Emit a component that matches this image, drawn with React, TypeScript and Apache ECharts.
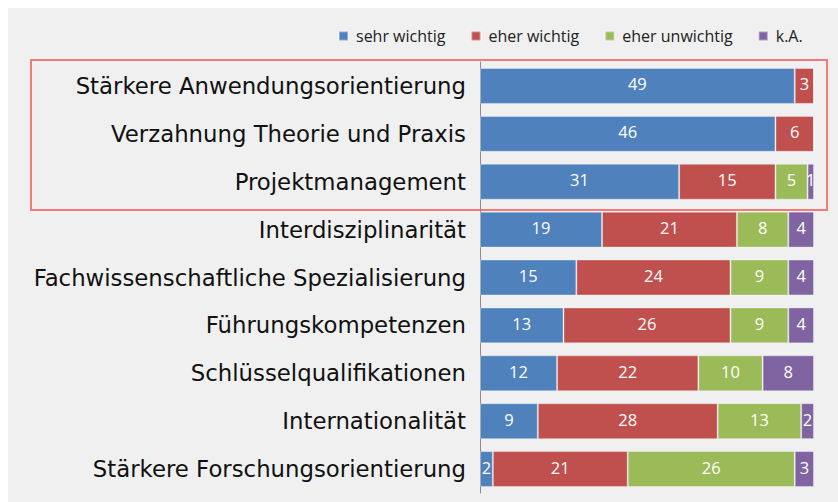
import React, { useEffect, useRef } from "react";
import * as echarts from "echarts";

const categories = [
  "Stärkere Anwendungsorientierung",
  "Verzahnung Theorie und Praxis",
  "Projektmanagement",
  "Interdisziplinarität",
  "Fachwissenschaftliche Spezialisierung",
  "Führungskompetenzen",
  "Schlüsselqualifikationen",
  "Internationalität",
  "Stärkere Forschungsorientierung",
];
const seriesNames = ["sehr wichtig", "eher wichtig", "eher unwichtig", "k.A."];
const sehrWichtig = [49, 46, 31, 19, 15, 13, 12, 9, 2];
const eherWichtig = [3, 6, 15, 21, 24, 26, 22, 28, 21];
const eherUnwichtig = [0, 0, 5, 8, 9, 9, 10, 13, 26];
const keineAngabe = [0, 0, 1, 4, 4, 4, 8, 2, 3];
const colors = ["#4f81bd", "#c0504d", "#9bbb59", "#8064a2"];

export default function App() {
  const ref = useRef<HTMLDivElement>(null);
  useEffect(() => {
    if (!ref.current) return;
    const chart = echarts.init(ref.current, undefined, { renderer: "svg" });
    const data = [sehrWichtig, eherWichtig, eherUnwichtig, keineAngabe];
    chart.setOption({
      animation: false,
      backgroundColor: "#f0f0f0",
      legend: {
        left: 325,
        top: 15,
        itemWidth: 9,
        itemHeight: 9,
        itemGap: 25,
        icon: "rect",
        textStyle: {
          fontFamily: "Open Sans",
          fontSize: 16,
          color: "#222",
          padding: [0, 0, 0, 3],
        },
        data: seriesNames,
      },
      grid: { left: 472, top: 54, width: 334, height: 431 },
      xAxis: {
        type: "value",
        min: 0,
        max: 52,
        show: false,
      },
      yAxis: {
        type: "category",
        inverse: true,
        data: categories,
        axisLine: { show: true, lineStyle: { color: "#8c8c8c", width: 1 } },
        axisTick: { show: false },
        axisLabel: {
          fontFamily: "DejaVu Sans",
          fontSize: 22.8,
          color: "#111",
          margin: 14,
        },
      },
      series: seriesNames.map((name, i) => ({
        name,
        type: "bar",
        stack: "total",
        barCategoryGap: "25%",
        data: data[i],
        itemStyle: {
          color: colors[i],
          borderColor: "rgba(255,255,255,0.35)",
          borderWidth: 1,
        },
        label: {
          show: true,
          position: "inside",
          color: "#fff",
          fontFamily: "Open Sans",
          fontSize: 16.5,
          offset: [0, -2],
          formatter: (p: any) => (p.value === 0 ? "" : String(p.value)),
        },
      })),
      graphic: [
        {
          type: "rect",
          shape: { x: 23, y: 52, width: 796, height: 150 },
          style: { fill: "none", stroke: "#f47a7a", lineWidth: 2 },
        },
      ],
    });
    return () => chart.dispose();
  }, []);
  return (
    <div
      ref={ref}
      style={{ position: "absolute", left: 8, top: 8, width: 830, height: 494 }}
    />
  );
}
